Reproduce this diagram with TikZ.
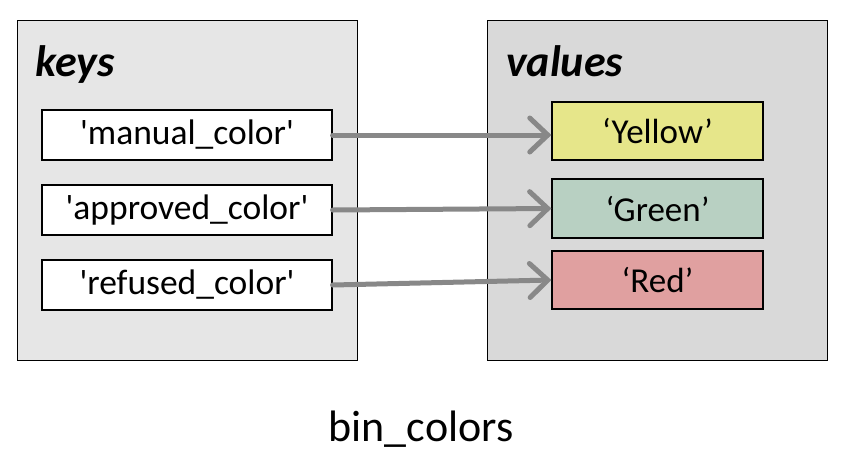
\documentclass[tikz,border=0pt]{standalone}
\usepackage{fontspec}
\setmainfont{Carlito}
\usetikzlibrary{arrows.meta}
\definecolor{leftpanel}{HTML}{E6E6E6}
\definecolor{rightpanel}{HTML}{D9D9D9}
\definecolor{yellowbox}{HTML}{E6E68A}
\definecolor{greenbox}{HTML}{B8D0C2}
\definecolor{redbox}{HTML}{E0A0A0}
\definecolor{arrowgray}{HTML}{888888}
\tikzset{
  panel/.style={draw=black, line width=1pt, minimum width=340pt, minimum height=340pt, inner sep=0pt},
  keybox/.style={draw=black, line width=1.2pt, fill=white, minimum width=290pt, minimum height=50pt, inner sep=0pt, font=\fontsize{35.5}{40}\selectfont},
  valbox/.style={draw=black, line width=1.2pt, minimum width=211pt, inner sep=0pt, font=\fontsize{35}{40}\selectfont},
  paneltitle/.style={anchor=base west, inner sep=0pt, font=\fontsize{44}{50}\selectfont\bfseries\itshape},
  link/.style={draw=arrowgray, line width=5pt, line cap=round, -{Straight Barb[length=18pt, width=34pt, line cap=round]}},
}
\newcommand{\sq}{\textquotesingle}
\begin{document}
\begin{tikzpicture}[x=1pt, y=-1pt]
\useasboundingbox (0,0) rectangle (848,464);
\node[panel, fill=leftpanel] (left) at (187,190) {};
\node[panel, fill=rightpanel] (right) at (657,190) {};
\node[paneltitle] (keystitle) at (35,76) {keys};
\node[paneltitle] (valstitle) at (506,76) {values};
\node[keybox] (k1) at (187,135) {\sq manual\_color\sq};
\node[keybox] (k2) at (187,210) {\sq approved\_color\sq};
\node[keybox] (k3) at (187,285) {\sq refused\_color\sq};
\node[valbox, fill=yellowbox, minimum height=58pt] (v1) at (657.5,131) {‘Yellow’};
\node[valbox, fill=greenbox, minimum height=59pt] (v2) at (657.5,208.5) {‘Green’};
\node[valbox, fill=redbox, minimum height=58pt] (v3) at (657.5,280) {‘Red’};
\draw[link] (k1.east) -- (k1.east -| v1.west);
\draw[link] (k2.east) -- (v2.west);
\draw[link] (k3.east) -- (v3.west);
\node[anchor=base, inner sep=0pt, font=\fontsize{44}{50}\selectfont] (caption) at (421,441) {bin\_colors};
\end{tikzpicture}
\end{document}
